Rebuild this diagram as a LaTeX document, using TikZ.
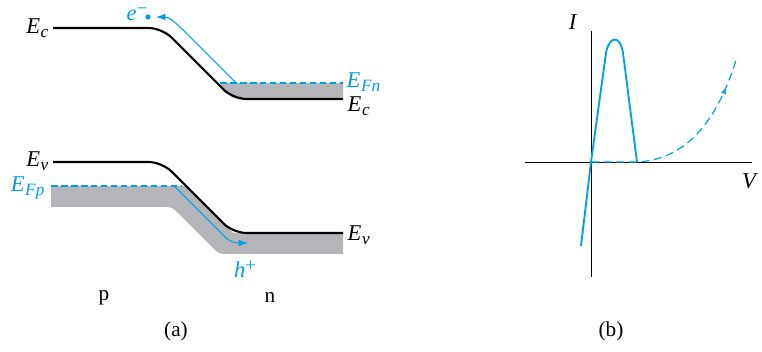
\documentclass[tikz,border=0pt]{standalone}
\usepackage{amsmath,amssymb}
\usepackage{fontspec}
\setmainfont{Liberation Serif}
\usetikzlibrary{arrows.meta,decorations.markings}
\definecolor{carrier}{RGB}{0,160,226}
\definecolor{bandgray}{RGB}{180,181,184}
\newcommand{\lev}[2]{\textit{#1}\kern0.5pt\raisebox{-0.35ex}{\fontsize{13}{13}\selectfont\itshape #2}}
\newcommand{\chg}[2]{\textit{#1}\raisebox{0.6ex}{\fontsize{14}{14}\selectfont #2}}

\begin{document}
\begin{tikzpicture}[x=0.02646cm,y=-0.02646cm,>={Latex[length=7pt,width=5pt]},
  band/.style={line width=1.6pt,rounded corners=10pt},
  fermi/.style={carrier,dash pattern=on 5pt off 2.5pt,line width=0.8pt},
  lbl/.style={font=\fontsize{17}{20}\selectfont,inner sep=1pt},
  captext/.style={font=\fontsize{16}{19}\selectfont}]
\useasboundingbox (0,0) rectangle (762,352);
% (a) band diagram
\fill[bandgray] (220,83) -- (343,83) -- (343,99) -- (246,99) .. controls (233,99) .. (224,90) -- cycle;
\fill[bandgray] (51,186) -- (186,186) -- (233,233) -- (343,233) -- (343,254) -- (229,254)
  .. controls (219,254) .. (212,247) -- (179,214) .. controls (172,207) .. (162,207) -- (51,207) -- cycle;
\draw[band] (53,28) -- (162,28) -- (233,99) -- (343,99);
\draw[band] (53,162) -- (162,162) -- (233,233) -- (343,233);
\draw[fermi] (220,83) -- (343,83);
\draw[fermi] (51,186) -- (182,186);
\node[lbl,anchor=east] (ecp) at (50,28) {\lev{E}{c}};
\node[lbl,anchor=west] (ecn) at (346,106) {\lev{E}{c}};
\node[lbl,anchor=west,carrier] (efn) at (345,82) {\lev{E}{Fn}};
\node[lbl,anchor=east] (evp) at (50,161) {\lev{E}{v}};
\node[lbl,anchor=east,carrier] (efp) at (46,188) {\lev{E}{Fp}};
\node[lbl,anchor=west] (evn) at (346,235) {\lev{E}{v}};
\fill[carrier] (148,17) circle (2.6) coordinate (dot);
\node[lbl,carrier,inner sep=0pt] (el) at (137,14) {\chg{e}{−}};
\node[lbl,carrier] (ho) at (245,269) {\chg{h}{+}};
\coordinate (estart) at (236,83);
\coordinate (eend) at (156,17);
\coordinate (hstart) at (174,186);
\coordinate (hend) at (248,243);
\draw[->,carrier,line width=0.8pt] (estart) -- (182,29) .. controls (174,21) and (168,17) .. (eend);
\draw[->,carrier,line width=0.8pt] (hstart) -- (224,236) .. controls (231,243) and (236,243) .. (hend);
\node[captext] (p) at (104,298) {p};
\node[captext] (n) at (270,297) {n};
\node[captext] (capa) at (176,331) {(a)};
% (b) I-V curve
\coordinate (o) at (591,162);
\draw[line width=0.7pt] (591,31) -- (591,277);
\draw[line width=0.7pt] (525,162) -- (752,162);
\node[lbl] (I) at (573,22) {\textit{I}};
\node[lbl] (V) at (750,181) {\textit{V}};
\draw[carrier,line width=1.4pt,line join=round] (581,246) -- (o) -- (606,53)
  .. controls (609,36) and (620,34) .. (623,53) -- (637,162) coordinate (valley);
\draw[carrier,dash pattern=on 6pt off 3.5pt,line width=0.9pt,
  postaction={decorate,decoration={markings,mark=at position 0.84 with {\arrow[solid]{Latex[length=5pt,width=4pt]}}}}]
  (o) -- (valley) .. controls (680,160) and (715,130) .. (737,57);
\node[captext] (capb) at (611,331) {(b)};
\end{tikzpicture}
\end{document}
